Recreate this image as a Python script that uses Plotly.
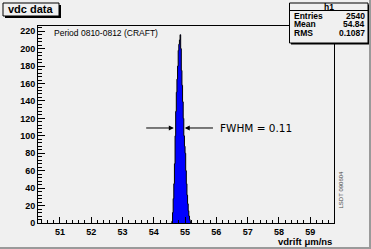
import plotly.graph_objects as go

# ---- data ----
bin_centers = [54.57, 54.59, 54.61, 54.63, 54.65, 54.67, 54.69, 54.71, 54.73, 54.75,
               54.77, 54.79, 54.81, 54.83, 54.85, 54.87, 54.89, 54.91, 54.93, 54.95,
               54.97, 54.99, 55.01, 55.03, 55.05, 55.07, 55.09, 55.11, 55.13, 55.15,
               55.17, 55.19]
counts = [0, 2, 12, 28, 45, 68, 100, 128, 150, 165,
          180, 198, 205, 210, 216, 200, 175, 158, 139, 120,
          100, 88, 80, 60, 45, 32, 22, 14, 8, 4,
          2, 0]
stats_labels = ["Entries", "Mean", "RMS"]
stats_values = ["2540", "54.84", "0.1087"]
hist_name = "h1"
title_text = "vdc data"
period_text = "Period 0810-0812 (CRAFT)"
fwhm_text = "FWHM = 0.11"
fwhm_left, fwhm_right, fwhm_level = 54.64, 54.99, 109
stamp_text = "LSDT 090604"
x_title = "vdrift \u03bcm/ns"

W, H = 371, 249
L, R, T, B = 38, 37, 26, 26
PW, PH = W - L - R, H - T - B


def px(x):
    return (x - L) / PW


def py(y):
    return (H - B - y) / PH


BG = "#f0f0f0"
FONT = "Liberation Sans"

fig = go.Figure()
fig.add_trace(go.Scatter(
    x=bin_centers, y=counts, mode="lines", line_shape="hvh",
    line=dict(color="black", width=1), fill="tozeroy", fillcolor="#0000ff",
    hoverinfo="skip", showlegend=False))

shapes = []
annotations = []

# title box with shadow
shapes.append(dict(type="rect", xref="paper", yref="paper",
                   x0=px(5), x1=px(61), y0=py(18), y1=py(5),
                   line=dict(width=0), fillcolor="black", layer="above"))
shapes.append(dict(type="rect", xref="paper", yref="paper",
                   x0=px(3), x1=px(59), y0=py(16), y1=py(3),
                   line=dict(color="black", width=1), fillcolor=BG, layer="above"))
annotations.append(dict(text="<b>%s</b>" % title_text, xref="paper", yref="paper",
                        x=px(31), y=py(9.5), showarrow=False, xanchor="center",
                        yanchor="middle", font=dict(family=FONT, size=11, color="black")))

# stats box with shadow
sx0, sx1, sy0, sy1 = 289.5, 368, 3, 43
shapes.append(dict(type="rect", xref="paper", yref="paper",
                   x0=px(sx0 + 1.5), x1=px(sx1 + 1.5), y0=py(sy1 + 1.5), y1=py(sy0 + 1.5),
                   line=dict(width=0), fillcolor="black", layer="above"))
shapes.append(dict(type="rect", xref="paper", yref="paper",
                   x0=px(sx0), x1=px(sx1), y0=py(sy1), y1=py(sy0),
                   line=dict(color="black", width=1), fillcolor=BG, layer="above"))
shapes.append(dict(type="line", xref="paper", yref="paper",
                   x0=px(sx0), x1=px(sx1), y0=py(10.5), y1=py(10.5),
                   line=dict(color="black", width=1), layer="above"))
annotations.append(dict(text="<b>%s</b>" % hist_name, xref="paper", yref="paper",
                        x=px((sx0 + sx1) / 2), y=py(6.8), showarrow=False,
                        xanchor="center", yanchor="middle",
                        font=dict(family=FONT, size=8.5, color="black")))
for i, (lab, val) in enumerate(zip(stats_labels, stats_values)):
    yy = 15.5 + i * 8.7
    annotations.append(dict(text="<b>%s</b>" % lab, xref="paper", yref="paper",
                            x=px(292), y=py(yy), showarrow=False, xanchor="left",
                            yanchor="middle", font=dict(family=FONT, size=8.5, color="black")))
    annotations.append(dict(text="<b>%s</b>" % val, xref="paper", yref="paper",
                            x=px(366.5), y=py(yy), showarrow=False, xanchor="right",
                            yanchor="middle", font=dict(family=FONT, size=8.5, color="black")))

# period label
annotations.append(dict(text=period_text, xref="paper", yref="paper",
                        x=px(52), y=py(32.5), showarrow=False, xanchor="left",
                        yanchor="middle", font=dict(family=FONT, size=8.5, color="black")))

# FWHM arrows and text
annotations.append(dict(text="", x=fwhm_left, y=fwhm_level, xref="x", yref="y",
                        ax=53.71, ay=fwhm_level, axref="x", ayref="y",
                        showarrow=True, arrowhead=2, arrowsize=1, arrowwidth=1,
                        arrowcolor="black"))
annotations.append(dict(text="", x=fwhm_right, y=fwhm_level, xref="x", yref="y",
                        ax=55.94, ay=fwhm_level, axref="x", ayref="y",
                        showarrow=True, arrowhead=2, arrowsize=1, arrowwidth=1,
                        arrowcolor="black"))
annotations.append(dict(text=fwhm_text, x=56.05, y=fwhm_level, xref="x", yref="y",
                        showarrow=False, xanchor="left", yanchor="middle",
                        font=dict(family="DejaVu Sans", size=10.5, color="black")))

# stamp
annotations.append(dict(text=stamp_text, xref="paper", yref="paper",
                        x=px(340.5), y=py(190), showarrow=False, textangle=-90,
                        xanchor="center", yanchor="middle",
                        font=dict(family=FONT, size=6, color="#444444")))

# x axis title
annotations.append(dict(text="<b>%s</b>" % x_title, xref="paper", yref="paper",
                        x=1.0, y=py(241), showarrow=False, xanchor="right",
                        yanchor="middle", font=dict(family=FONT, size=9.5, color="black")))

# canvas bevel border
shapes.append(dict(type="line", xref="paper", yref="paper",
                   x0=px(0), x1=px(W), y0=py(H - 1), y1=py(H - 1),
                   line=dict(color="#9a9a9a", width=2)))
shapes.append(dict(type="line", xref="paper", yref="paper",
                   x0=px(W - 1), x1=px(W - 1), y0=py(H), y1=py(0),
                   line=dict(color="#9a9a9a", width=2)))

axis_common = dict(showgrid=False, zeroline=False, showline=True, linecolor="black",
                   linewidth=1, mirror=True, ticks="inside", tickcolor="black",
                   tickwidth=1, color="black",
                   tickfont=dict(family=FONT, size=9, color="black"))

fig.update_layout(
    width=W, height=H,
    margin=dict(l=L, r=R, t=T, b=B, pad=0),
    paper_bgcolor=BG, plot_bgcolor=BG,
    showlegend=False,
    shapes=shapes, annotations=annotations,
    xaxis=dict(range=[50.3, 59.76], dtick=1, tick0=51, ticklen=6,
               tickprefix="<b>", ticksuffix="</b>",
               minor=dict(dtick=0.2, ticks="inside", ticklen=3, tickcolor="black"),
               **axis_common),
    yaxis=dict(range=[0, 226], dtick=20, tick0=0, ticklen=7,
               tickprefix="<b>", ticksuffix="</b>",
               minor=dict(dtick=4, ticks="inside", ticklen=3.5, tickcolor="black"),
               **axis_common),
)

fig.write_html("out.html",
               config={"displayModeBar": False, "staticPlot": True},
               post_script="document.body.style.margin='0';document.body.style.padding='0';"
                           "document.body.style.overflow='hidden';")
